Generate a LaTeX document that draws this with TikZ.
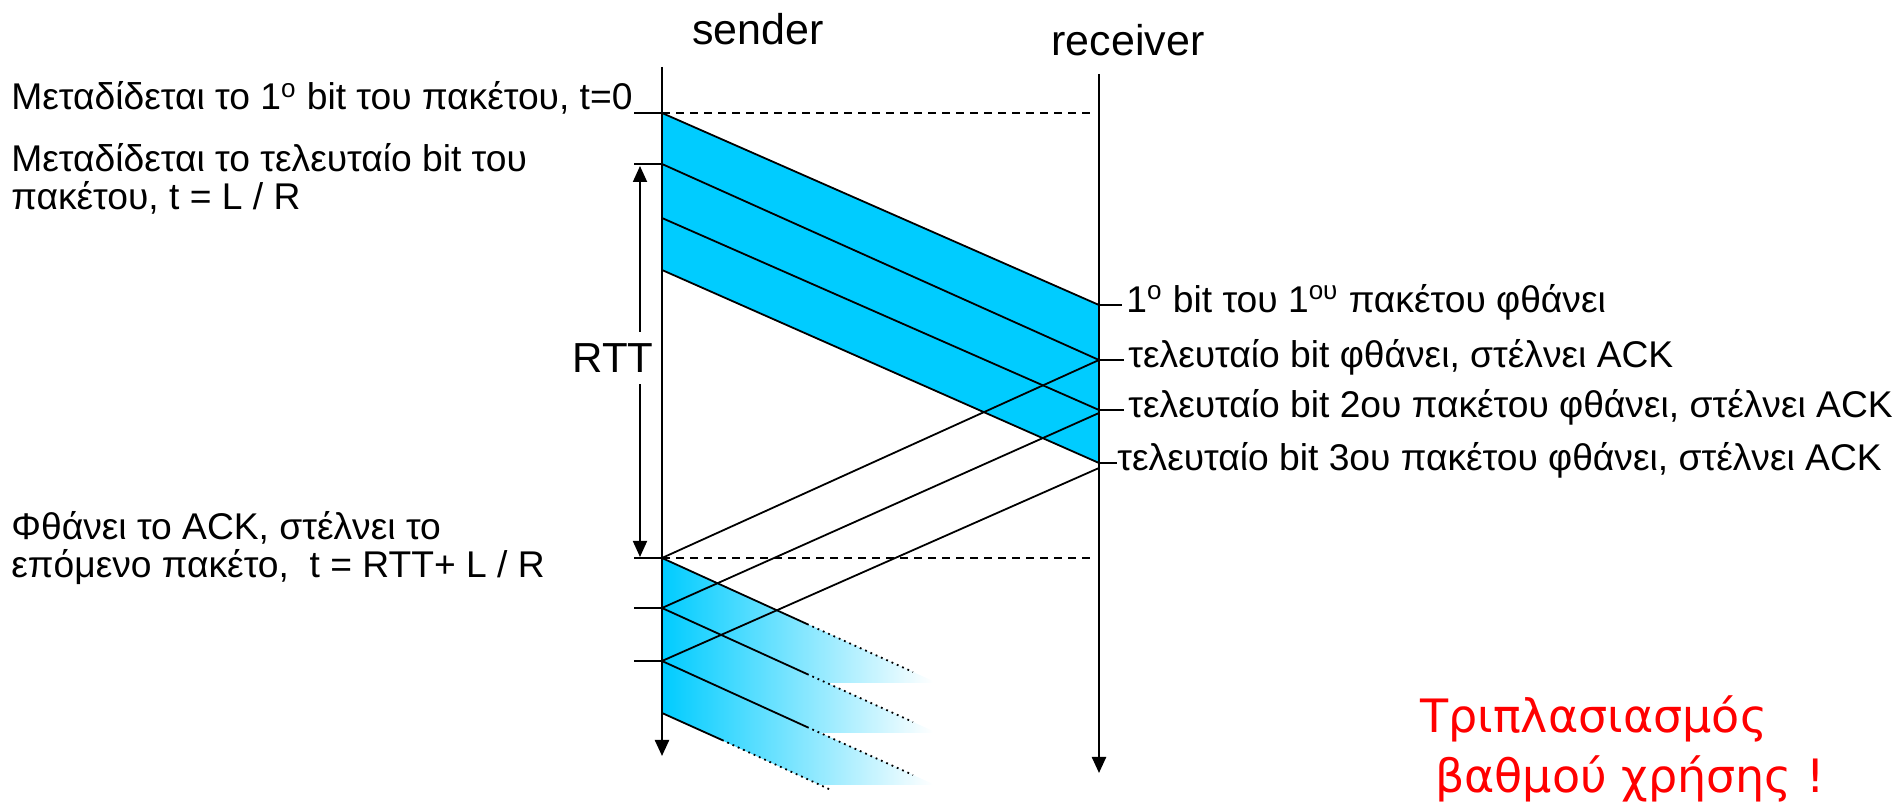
\documentclass[tikz,border=0pt]{standalone}
\usepackage{fontspec}
\setmainfont{Liberation Sans}
\newfontfamily\redfont{DejaVu Sans}
\usetikzlibrary{arrows.meta, positioning}

\definecolor{pktblue}{RGB}{0,204,255}

\begin{document}
\begin{tikzpicture}[x=0.5pt, y=-0.5pt, >={Triangle[length=8pt,width=7pt]},
  every node/.style={inner sep=0pt, font=\fontsize{18.6}{19}\selectfont},
  lbl/.style={anchor=base west, align=left},
  rlbl/.style={text height=0.92em, text depth=0.2em},
  wire/.style={line width=0.9pt},
  tick/.style={line width=0.8pt},
  fade/.style={line width=0.9pt, dotted},
  timeline/.style={line width=1.2pt, ->}]
\useasboundingbox (0,0) rectangle (1903,806);

% Time lines
\coordinate (sTop) at (662,67);
\coordinate (sBot) at (662,756);
\coordinate (rTop) at (1099,74);
\coordinate (rBot) at (1099,773);
\node (snd) at (758,29) {\fontsize{21.5}{22}\selectfont sender};
\node (rcv) at (1128,40) {\fontsize{21.5}{22}\selectfont receiver};

% Instants on both sides
\coordinate (s0) at (662,113);
\coordinate (s1) at (662,164);
\coordinate (s2) at (662,218);
\coordinate (s3) at (662,270);
\coordinate (r0) at (1099,305);
\coordinate (r1) at (1099,360);
\coordinate (r2) at (1099,410);
\coordinate (r3) at (1099,463);
\coordinate (a1) at (1099,360);
\coordinate (a2) at (1099,413);
\coordinate (a3) at (1099,468);
\coordinate (n0) at (662,558);
\coordinate (n1) at (662,608);
\coordinate (n2) at (662,661);
\coordinate (n3) at (662,713);

% Packets in flight
\fill[pktblue] (s0) -- (r0) -- (r3) -- (s3) -- cycle;
\shade[left color=pktblue, right color=white] (n0) -- ++(271,123) |- (827,683) -- (n1) -- cycle;
\shade[left color=pktblue, right color=white] (n1) -- ++(271,123) |- (820,733) -- (n2) -- cycle;
\shade[left color=pktblue, right color=white] (n2) -- ++(271,123) |- (820,785) -- (n3) -- cycle;

\foreach \i in {0,...,3} \draw[wire] (s\i) -- (r\i);
\foreach \i in {0,1,2} {
  \draw[wire] (n\i) -- ++(145,66) coordinate (m\i);
  \draw[fade] (m\i) -- ++(106,48);
}
\draw[wire] (n3) -- ++(60,27) coordinate (m3);
\draw[fade] (m3) -- ++(109,50);

% ACKs
\draw[wire] (a1) -- (n0);
\draw[wire] (a2) -- (n1);
\draw[wire] (a3) -- (n2);

\draw[timeline] (sTop) -- (sBot);
\draw[timeline] (rTop) -- (rBot);
\draw[wire, dash pattern=on 4pt off 3pt, shorten >=4.5pt] (s0) -- (s0 -| rTop);
\draw[wire, dash pattern=on 4pt off 3pt, shorten >=2pt] (n0) -- (n0 -| rTop);

% Ticks
\foreach \c in {s0,s1,n0,n1,n2} \draw[tick] (\c) -- ++(-28,0);
\draw[tick] (r0) -- ++(23,0) coordinate (t0);
\draw[tick] (r1) -- ++(25,0) coordinate (t1);
\draw[tick] (r2) -- ++(25,0) coordinate (t2);
\draw[tick] (r3) -- ++(18,0) coordinate (t3);

% RTT
\coordinate (rttTop) at (640,166);
\coordinate (rttBot) at (640,557);
\draw[wire, <->] (rttTop) -- (rttBot);
\node[fill=white, inner xsep=0pt, inner ysep=6pt] (rtt) at (613,358) {\fontsize{21}{24}\selectfont RTT};

% Left labels
\node[lbl] (first) at (11,110) {Μεταδίδεται το 1\textsuperscript{ο} bit του πακέτου, t=0};
\node[lbl] (last) at (11,210) {Μεταδίδεται το τελευταίο bit του\\πακέτου, t = L / R};
\node[lbl] (next) at (11,578) {Φθάνει το ACK, στέλνει το\\επόμενο πακέτο,\ \ t = RTT+ L / R};

% Right labels
\node[rlbl, right=2pt of t0] (arr0) {1\textsuperscript{ο} bit του 1\textsuperscript{ου} πακέτου φθάνει};
\node[rlbl, right=2pt of t1] (arr1) {τελευταίο bit φθάνει, στέλνει ACK};
\node[rlbl, right=2pt of t2] (arr2) {τελευταίο bit 2ου πακέτου φθάνει, στέλνει ACK};
\node[rlbl, right=0pt of t3] (arr3) {τελευταίο bit 3ου πακέτου φθάνει, στέλνει ACK};

% Note
\node[lbl, red, font=\redfont\fontsize{23}{30}\selectfont] (gain) at (1420,793) {Τριπλασιασμός\\\ βαθμού χρήσης !};
\end{tikzpicture}
\end{document}
